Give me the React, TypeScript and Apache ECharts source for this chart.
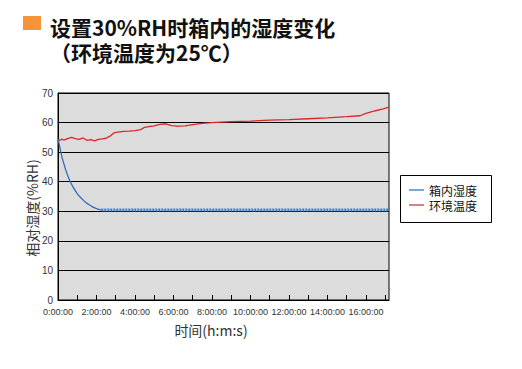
import React, { useEffect, useRef } from "react";
import * as echarts from "echarts";

const titleLine1 = "设置30%RH时箱内的湿度变化";
const titleLine2 = "（环境温度为25℃）";
const seriesNames = ["箱内湿度", "环境温度"];
const seriesColors = ["#2f6fb8", "#e0242c"];
const legendColors = ["#1f6fb5", "#c8283c"];
const yAxisName = "相对湿度(%RH)";
const xAxisName = "时间(h:m:s)";

// time in hours
const redHours = [0, 0.1, 0.2, 0.3, 0.5, 0.7, 0.9, 1.1, 1.3, 1.5, 1.7, 1.9, 2.1, 2.3, 2.5, 2.7, 2.9, 3.1, 3.4, 3.7, 4.0, 4.3, 4.5, 4.8, 5.0, 5.3, 5.6, 5.9, 6.2, 6.6, 7.0, 7.5, 8.0, 9.0, 10.0, 11.0, 12.0, 13.0, 14.0, 15.0, 15.7, 16.0, 16.5, 16.9, 17.2];
const redValues = [54.2, 54.0, 54.4, 54.1, 54.6, 55.0, 54.6, 54.3, 54.8, 54.0, 54.2, 53.8, 54.3, 54.5, 54.7, 55.4, 56.5, 56.8, 57.0, 57.1, 57.3, 57.6, 58.4, 58.7, 58.9, 59.4, 59.6, 59.0, 58.8, 58.9, 59.3, 59.7, 60.0, 60.3, 60.5, 60.8, 61.0, 61.3, 61.6, 62.0, 62.3, 63.1, 64.0, 64.6, 65.2];

const blueDecayHours = [0, 0.1, 0.2, 0.3, 0.4, 0.5, 0.6, 0.8, 1.0, 1.2, 1.4, 1.6, 1.8, 2.0, 2.25];
const blueDecayValues = [54.5, 51.5, 48.5, 46.2, 44.0, 42.2, 40.6, 38.0, 36.0, 34.5, 33.2, 32.3, 31.5, 30.9, 30.4];
const blueFlatHours = [2.25, 17.2];
const blueFlatValues = [30.4, 30.4];

const xMax = 17.2;
const yTicks = [0, 10, 20, 30, 40, 50, 60, 70];

const zip = (xs: number[], ys: number[]) => xs.map((x, i) => [x, ys[i]]);

export default function App() {
  const ref = useRef<HTMLDivElement>(null);
  useEffect(() => {
    if (!ref.current) return;
    const chart = echarts.init(ref.current, null, { renderer: "svg" });
    const axisFont = "'Liberation Sans', Arial, sans-serif";
    const cjk = "'Noto Sans CJK SC', sans-serif";
    const legendItems = seriesNames.flatMap((name, i) => {
      const cy = 190 + i * 15;
      return [
        { type: "line", shape: { x1: 409, y1: cy, x2: 424, y2: cy }, style: { stroke: legendColors[i], lineWidth: 1.2 } },
        {
          type: "text",
          x: 429,
          y: cy,
          style: {
            text: name,
            fontSize: 12,
            lineHeight: 13,
            fontFamily: cjk,
            fill: "#111",
            verticalAlign: "middle",
            align: "left",
          },
        },
      ];
    });
    chart.setOption({
      animation: false,
      backgroundColor: "#ffffff",
      grid: {
        left: 58,
        top: 93,
        width: 331,
        height: 207,
        show: true,
        backgroundColor: "#dcdcdc",
        borderColor: "#000",
        borderWidth: 1,
      },
      xAxis: {
        type: "value",
        min: 0,
        max: xMax,
        interval: 1,
        axisLine: { show: true, lineStyle: { color: "#000", width: 1 } },
        axisTick: { show: true, inside: true, length: 5, lineStyle: { color: "#000" } },
        splitLine: { show: false },
        axisLabel: {
          color: "#333",
          fontSize: 9,
          fontFamily: axisFont,
          margin: 7,
          showMaxLabel: false,
          hideOverlap: false,
          formatter: (v: number) => (Number.isInteger(v) && v % 2 === 0 ? `${v}:00:00` : ""),
        },
      },
      yAxis: {
        type: "value",
        min: yTicks[0],
        max: yTicks[yTicks.length - 1],
        interval: 10,
        axisLine: { show: true, lineStyle: { color: "#000", width: 1 } },
        axisTick: { show: false },
        splitLine: { show: true, lineStyle: { color: "#000", width: 1 } },
        axisLabel: { color: "#333", fontSize: 10, fontFamily: axisFont, margin: 5 },
      },
      graphic: [
        { type: "rect", shape: { x: 23, y: 16, width: 18, height: 14 }, style: { fill: "#f7943a" } },
        {
          type: "text",
          x: 50,
          y: 27,
          style: {
            text: titleLine1,
            fontSize: 21,
            lineHeight: 21,
            fontWeight: "bold",
            fontFamily: cjk,
            fill: "#111",
            verticalAlign: "middle",
            align: "left",
          },
        },
        {
          type: "text",
          x: 50,
          y: 51.5,
          style: {
            text: titleLine2,
            fontSize: 21,
            lineHeight: 21,
            fontWeight: "bold",
            fontFamily: cjk,
            fill: "#111",
            verticalAlign: "middle",
            align: "left",
          },
        },
        {
          type: "text",
          x: 32,
          y: 208,
          rotation: Math.PI / 2,
          style: {
            text: yAxisName,
            fontSize: 14,
            fontFamily: cjk,
            fill: "#333",
            align: "center",
            verticalAlign: "middle",
          },
        },
        {
          type: "text",
          x: 211,
          y: 330,
          style: {
            text: xAxisName,
            fontSize: 14,
            fontFamily: cjk,
            fill: "#333",
            align: "center",
            verticalAlign: "middle",
          },
        },
        {
          type: "rect",
          shape: { x: 400.5, y: 175.5, width: 91, height: 47 },
          style: { fill: "#fff", stroke: "#000", lineWidth: 1 },
        },
        ...legendItems,
      ],
      series: [
        {
          name: seriesNames[0],
          type: "line",
          data: zip(blueDecayHours, blueDecayValues),
          symbol: "none",
          smooth: true,
          lineStyle: { color: seriesColors[0], width: 1.3 },
          z: 3,
        },
        {
          name: seriesNames[0],
          type: "line",
          data: zip(blueFlatHours, blueFlatValues),
          symbol: "none",
          lineStyle: { color: "#3a80cc", width: 3, type: [2, 1] },
          z: 3,
        },
        {
          name: seriesNames[1],
          type: "line",
          data: zip(redHours, redValues),
          symbol: "none",
          lineStyle: { color: seriesColors[1], width: 1.3 },
          z: 4,
        },
      ],
    });
    return () => chart.dispose();
  }, []);
  return (
    <div
      ref={ref}
      style={{ position: "fixed", left: 0, top: 0, width: 522, height: 369, background: "#fff" }}
    />
  );
}
